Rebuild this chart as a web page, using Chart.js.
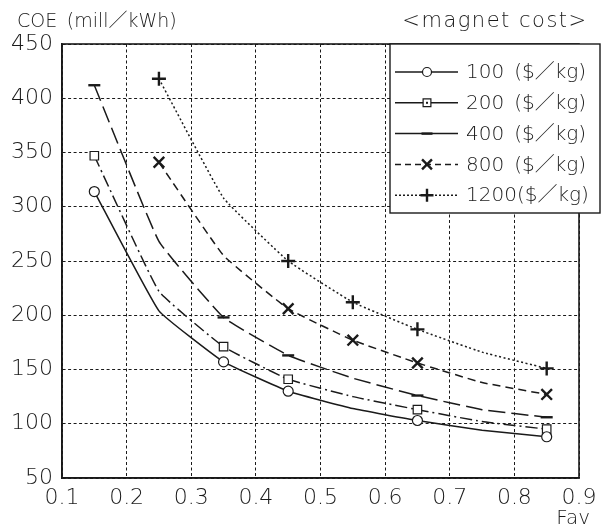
<!DOCTYPE html>
<html>
<head>
<meta charset="utf-8">
<script src="https://cdn.jsdelivr.net/npm/chart.js@4/dist/chart.umd.min.js"></script>
<style>
  html, body { margin: 0; padding: 0; background: #fff; }
  #wrap { width: 607px; height: 529px; position: relative; }
</style>
</head>
<body>
<div id="wrap"><canvas id="coeChart" width="607" height="529"></canvas></div>
<script>
// Fav values at which COE was evaluated
const favValues = [0.15, 0.25, 0.35, 0.45, 0.55, 0.65, 0.75, 0.85];

// COE (mill/kWh) for each magnet cost
const coe100  = [314, 204, 157, 130, 114, 103, 94, 88];
const coe200  = [347, 222, 171, 141, 125, 113, 102, 95];
const coe400  = [412, 268, 198, 163, 142, 126, 113, 106];
const coe800  = [null, 341, 255, 206, 177, 156, 138, 127];
const coe1200 = [null, 418, 308, 250, 212, 187, 166, 151];

// which points carry a marker symbol
const marked100  = [1, 0, 1, 1, 0, 1, 0, 1];
const marked200  = [1, 0, 1, 1, 0, 1, 0, 1];
const marked400  = [1, 0, 1, 1, 0, 1, 0, 1];
const marked800  = [0, 1, 0, 1, 1, 1, 0, 1];
const marked1200 = [0, 1, 0, 1, 1, 1, 0, 1];

const seriesLabels = ['100\u2002($／kg)', '200\u2002($／kg)', '400\u2002($／kg)', '800\u2002($／kg)', '1200($／kg)'];

const xTickValues = [0.1, 0.2, 0.3, 0.4, 0.5, 0.6, 0.7, 0.8, 0.9];
const yTickValues = [50, 100, 150, 200, 250, 300, 350, 400, 450];

const yAxisTitle = 'COE\u2002(mill／kWh)';
const xAxisTitle = 'Fav';
const legendTitle = '<magnet cost>';

const INK = '#1a1a1a';
const FONT = "'DejaVu Sans', 'Noto Sans CJK JP', sans-serif";

function toPoints(values) {
  return favValues.map((x, i) => ({ x: x, y: values[i] })).filter(p => p.y !== null);
}
function toRadii(values, marks, r) {
  return favValues.map((x, i) => (marks[i] ? r : 0)).filter((_, i) => values[i] !== null);
}

const seriesStyles = [
  { values: coe100,  marks: marked100,  style: 'circle',   radius: 5,   pw: 1.2, dash: [],            legendDash: [] },
  { values: coe200,  marks: marked200,  style: 'rect',     radius: 6,   pw: 1.2, dash: [12, 4, 2, 4], legendDash: [] },
  { values: coe400,  marks: marked400,  style: 'line',     radius: 6,   pw: 2.4, dash: [17, 6],       legendDash: [] },
  { values: coe800,  marks: marked800,  style: 'crossRot', radius: 7.5, pw: 2.4, dash: [8, 5],        legendDash: [6, 4] },
  { values: coe1200, marks: marked1200, style: 'cross',    radius: 7,   pw: 2.4, dash: [2, 2.5],      legendDash: [2, 2] }
];

const datasets = seriesStyles.map((s, i) => ({
  label: seriesLabels[i],
  data: toPoints(s.values),
  borderColor: INK,
  backgroundColor: '#fff',
  borderWidth: 1.5,
  borderDash: s.dash,
  tension: 0.1,
  pointStyle: s.style,
  pointRadius: toRadii(s.values, s.marks, s.radius),
  pointBorderWidth: s.pw,
  pointBorderColor: INK,
  pointBackgroundColor: '#fff',
  pointHoverRadius: 0
}));

// frame, titles and the boxed legend
const decorations = {
  id: 'decorations',
  beforeDatasetsDraw(chart) {
    const { ctx, chartArea: a } = chart;
    ctx.save();
    ctx.strokeStyle = INK;
    ctx.lineWidth = 1.6;
    ctx.strokeRect(a.left, a.top, a.right - a.left, a.bottom - a.top);
    ctx.restore();
  },
  afterDraw(chart) {
    const { ctx, chartArea: a } = chart;
    ctx.save();
    ctx.fillStyle = INK;
    ctx.textBaseline = 'middle';
    ctx.font = '300 19px ' + FONT;
    ctx.textAlign = 'left';
    ctx.fillText(yAxisTitle, a.left - 45, 22);
    ctx.font = '300 21px ' + FONT;
    ctx.textAlign = 'center';
    ctx.letterSpacing = '1.5px';
    ctx.fillText(legendTitle, a.right - 84, 22);
    ctx.letterSpacing = '0px';
    ctx.font = '300 20px ' + FONT;
    ctx.textAlign = 'right';
    ctx.fillText(xAxisTitle, a.right + 11, 519);

    // legend box
    const bx = a.right - 189, by = a.top, bw = 210, bh = 169;
    ctx.fillStyle = '#fff';
    ctx.fillRect(bx, by, bw, bh);
    ctx.strokeStyle = INK;
    ctx.lineWidth = 1.4;
    ctx.strokeRect(bx, by, bw, bh);

    seriesStyles.forEach((s, i) => {
      const y = by + 28 + i * 30.8;
      ctx.save();
      ctx.strokeStyle = INK;
      ctx.lineWidth = 1.5;
      ctx.setLineDash(s.legendDash);
      ctx.beginPath();
      ctx.moveTo(bx + 5, y);
      ctx.lineTo(bx + 68, y);
      ctx.stroke();
      ctx.setLineDash([]);
      ctx.lineWidth = s.pw;
      ctx.fillStyle = '#fff';
      Chart.helpers.drawPoint(ctx, { pointStyle: s.style, radius: s.radius - 0.5, rotation: 0, borderWidth: s.pw }, bx + 37, y);
      if (s.style === 'rect') {
        ctx.fillStyle = INK;
        ctx.fillRect(bx + 36, y - 1, 2, 2);
      }
      ctx.restore();
      ctx.fillStyle = INK;
      ctx.textAlign = 'left';
      ctx.font = '300 20px ' + FONT;
      ctx.fillText(seriesLabels[i], bx + 76, y + 1);
    });
    ctx.restore();
  }
};

new Chart(document.getElementById('coeChart'), {
  type: 'line',
  data: { datasets: datasets },
  plugins: [decorations],
  options: {
    responsive: false,
    animation: false,
    events: [],
    layout: { padding: { top: 44, right: 28, left: 0, bottom: 0 } },
    plugins: { legend: { display: false }, tooltip: { enabled: false }, title: { display: false } },
    scales: {
      x: {
        type: 'linear',
        min: 0.1, max: 0.9,
        afterBuildTicks: s => { s.ticks = xTickValues.map(v => ({ value: v })); },
        afterFit: s => { s.height = 51; },
        ticks: {
          callback: v => v.toFixed(1),
          color: INK,
          font: { family: FONT, size: 22, weight: '300' },
          padding: 7,
          maxRotation: 0,
          autoSkip: false
        },
        grid: { color: INK, lineWidth: 1, drawTicks: false },
        border: { display: true, color: INK, width: 1.6, dash: [3, 2.5] }
      },
      y: {
        type: 'linear',
        min: 50, max: 450,
        afterBuildTicks: s => { s.ticks = yTickValues.map(v => ({ value: v })); },
        afterFit: s => { s.width = 62; },
        ticks: {
          color: INK,
          font: { family: FONT, size: 22, weight: '300' },
          padding: 9
        },
        grid: { color: INK, lineWidth: 1, drawTicks: false },
        border: { display: true, color: INK, width: 1.6, dash: [3, 2.5] }
      }
    }
  }
});
</script>
</body>
</html>
